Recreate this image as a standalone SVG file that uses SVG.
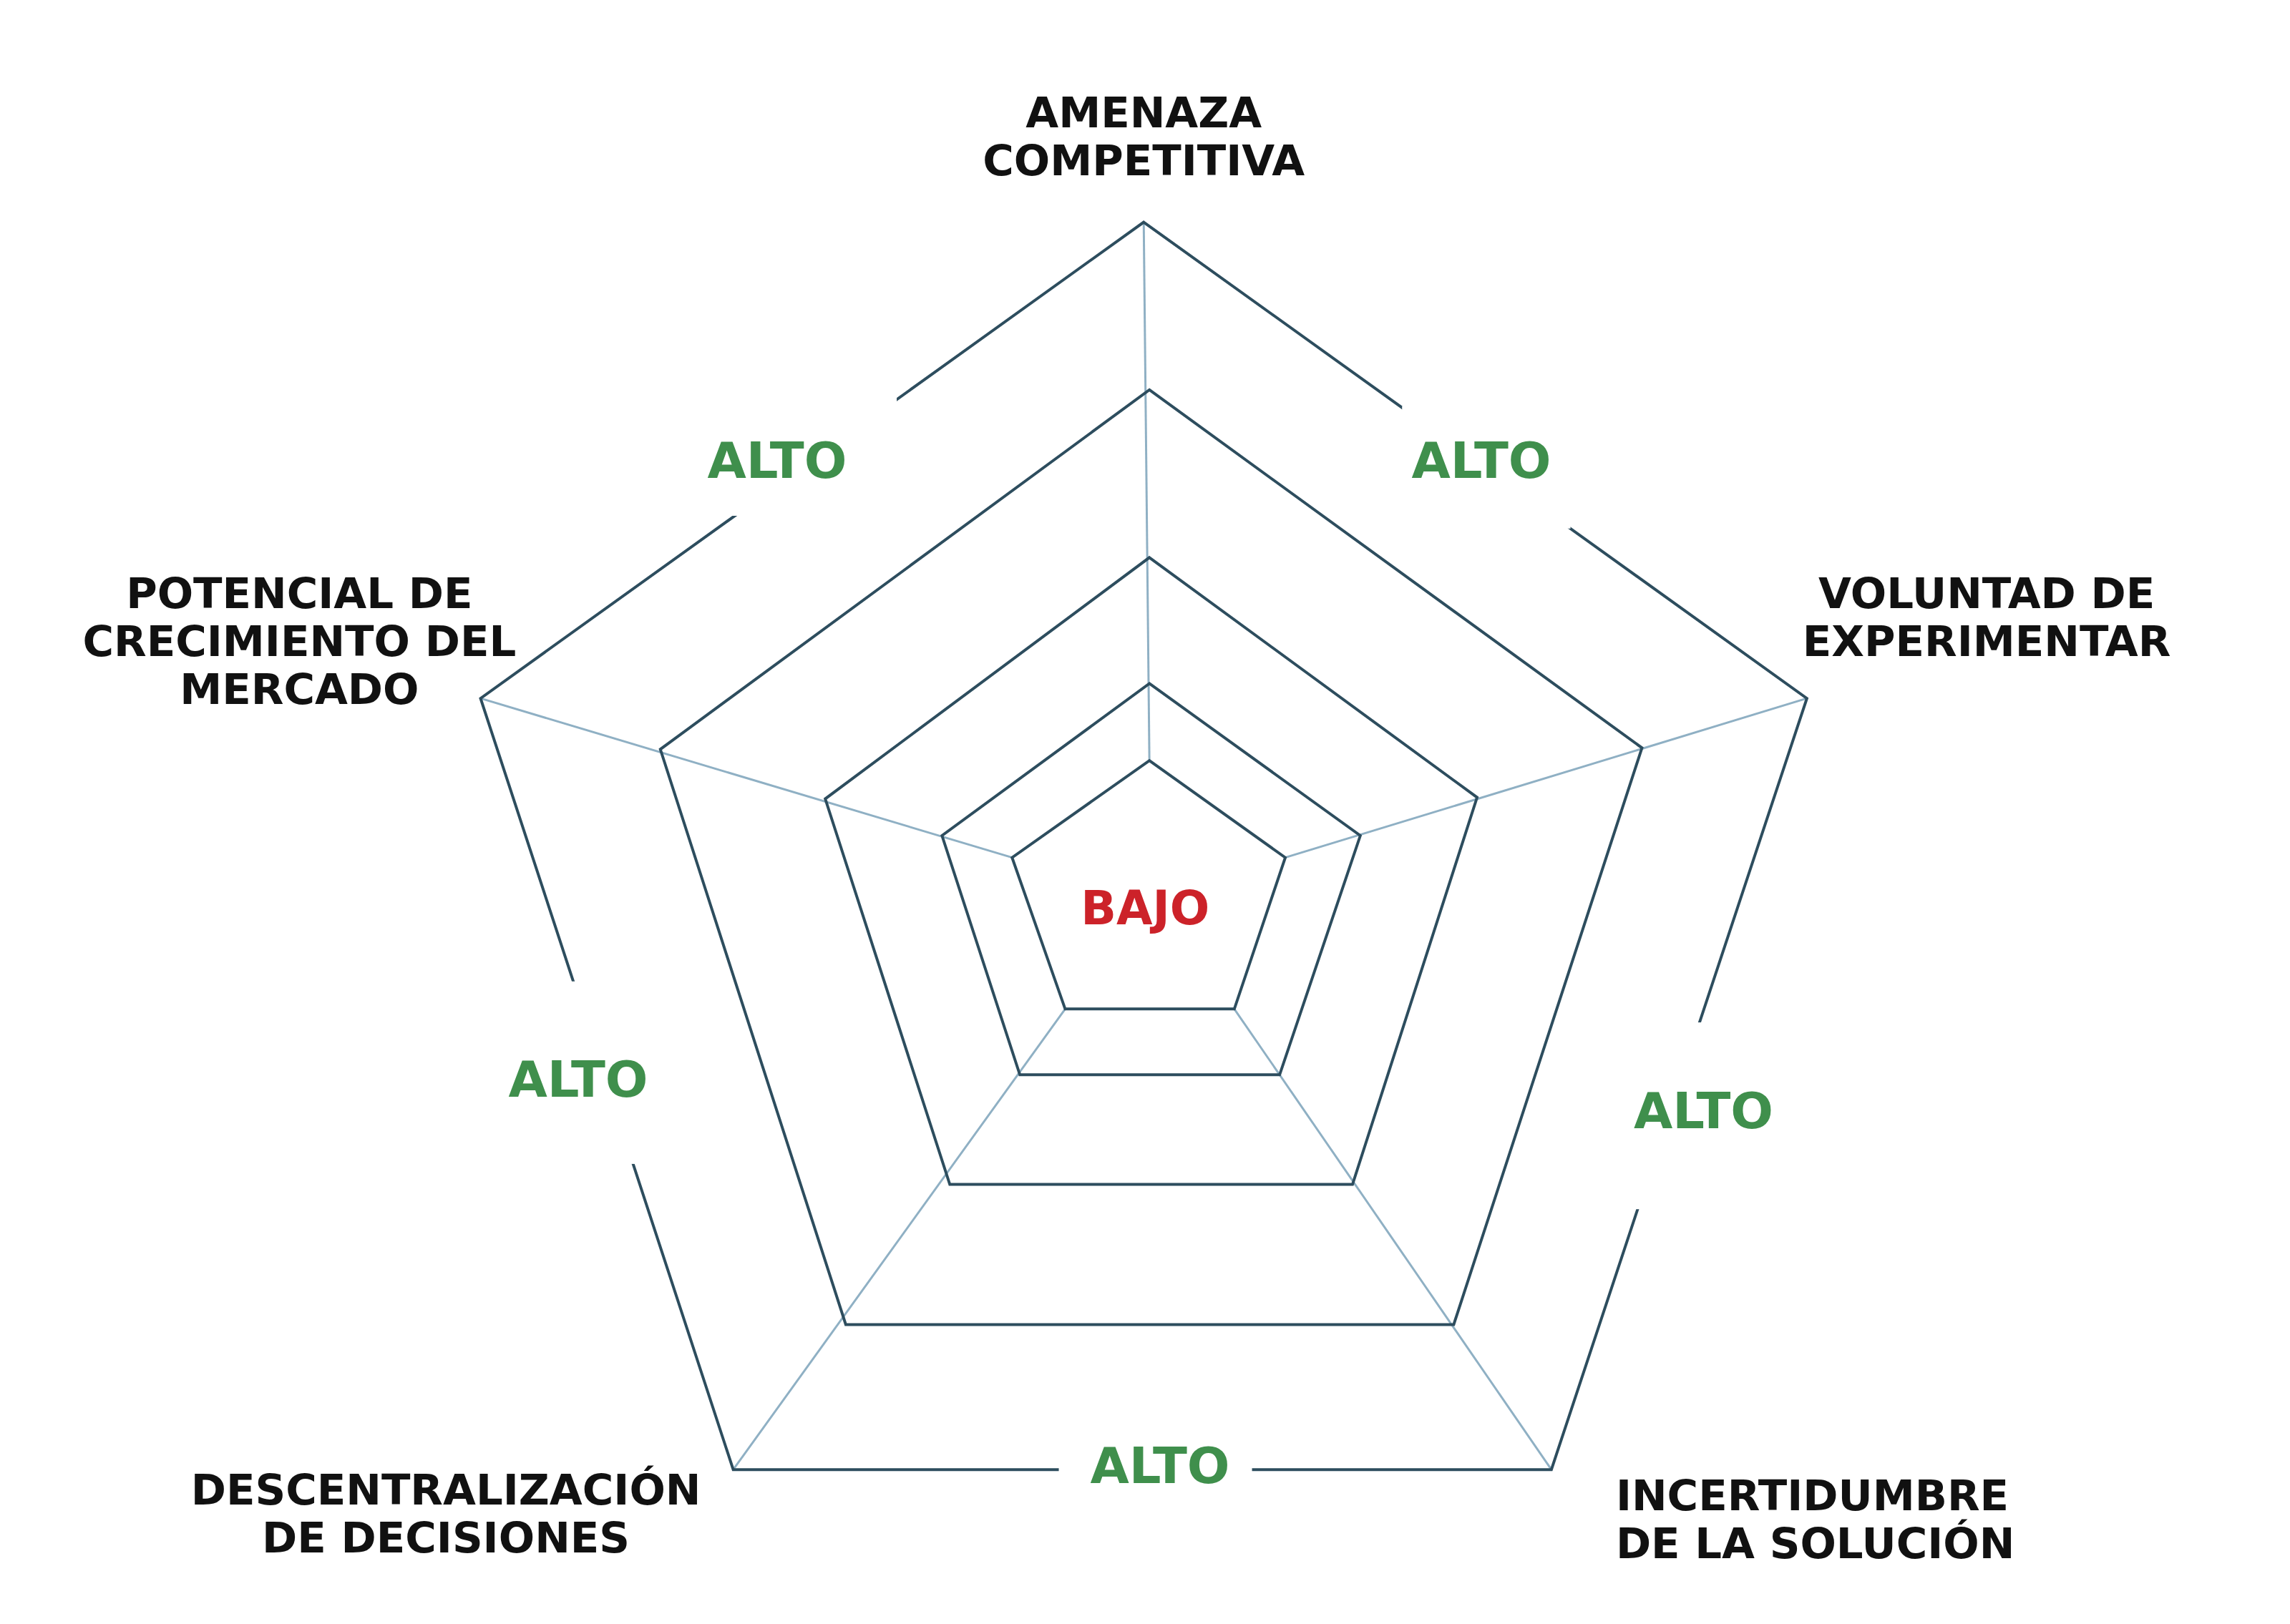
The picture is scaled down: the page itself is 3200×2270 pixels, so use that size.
<svg xmlns="http://www.w3.org/2000/svg" width="3200" height="2270" viewBox="0 0 3200 2270">
<style>
.ring{fill:none;stroke:#2d4d5e;stroke-width:4;stroke-linejoin:miter}
.spoke{stroke:#8fb0c4;stroke-width:3}
.lbl{font-family:"DejaVu Sans",sans-serif;font-weight:bold;font-size:60px;fill:#111}
.alto{font-family:"DejaVu Sans",sans-serif;font-weight:bold;font-size:71px;fill:#3f8f4c;text-anchor:middle}
.gap{fill:#fff}
</style>
<rect width="3200" height="2270" fill="#fff"/>
<g transform="scale(0.989)">
<g id="connectors">
<line class="spoke" x1="1624" y1="1075" x2="1616" y2="314"/>
<line class="spoke" x1="1816" y1="1212" x2="2553" y2="987"/>
<line class="spoke" x1="1744" y1="1426" x2="2192" y2="2077"/>
<line class="spoke" x1="1505" y1="1426" x2="1036" y2="2077"/>
<line class="spoke" x1="1430" y1="1212" x2="679" y2="987"/>
</g>
<g id="rings">
<polygon class="ring" points="1616,314 2553,987 2192,2077 1036,2077 679,987"/>
<polygon class="ring" points="1624,551 2320,1057 2054,1872 1195,1872 933,1059"/>
<polygon class="ring" points="1624,788 2087,1127 1911,1674 1342,1674 1166,1129"/>
<polygon class="ring" points="1624,966 1922,1181 1808,1519 1441,1519 1331,1181"/>
<polygon class="ring" points="1624,1075 1816,1212 1744,1426 1505,1426 1430,1212"/>
</g>
<g id="gaps">
<rect class="gap" x="1028" y="557" width="239" height="172"/>
<rect class="gap" x="1981" y="574" width="238" height="173"/>
<rect class="gap" x="2300" y="1445" width="220" height="264"/>
<rect class="gap" x="700" y="1387" width="220" height="258"/>
<rect class="gap" x="1496" y="2040" width="273" height="80"/>
</g>
<g id="alto-labels">
<text class="alto" x="1098" y="675">ALTO</text>
<text class="alto" x="2093" y="675">ALTO</text>
<text class="alto" x="2407" y="1595">ALTO</text>
<text class="alto" x="817" y="1550">ALTO</text>
<text class="alto" x="1639" y="2096">ALTO</text>
</g>
<g id="center"><text x="1618" y="1306" style="font-family:'DejaVu Sans',sans-serif;font-weight:bold;font-size:66px;fill:#cc2229;text-anchor:middle">BAJO</text></g>
<g id="n-amenaza"><text class="lbl" text-anchor="middle"><tspan x="1616" y="180">AMENAZA</tspan><tspan x="1616" y="248">COMPETITIVA</tspan></text></g>
<g id="n-potencial"><text class="lbl" text-anchor="middle"><tspan x="423" y="859">POTENCIAL DE</tspan><tspan x="423" y="927">CRECIMIENTO DEL</tspan><tspan x="423" y="995">MERCADO</tspan></text></g>
<g id="n-voluntad"><text class="lbl" text-anchor="middle"><tspan x="2807" y="859">VOLUNTAD DE</tspan><tspan x="2807" y="927">EXPERIMENTAR</tspan></text></g>
<g id="n-descentralizacion"><text class="lbl" text-anchor="middle"><tspan x="630" y="2126">DESCENTRALIZACIÓN</tspan><tspan x="630" y="2194">DE DECISIONES</tspan></text></g>
<g id="n-incertidumbre"><text class="lbl"><tspan x="2283" y="2134">INCERTIDUMBRE</tspan><tspan x="2283" y="2202">DE LA SOLUCIÓN</tspan></text></g>
</g>
</svg>
